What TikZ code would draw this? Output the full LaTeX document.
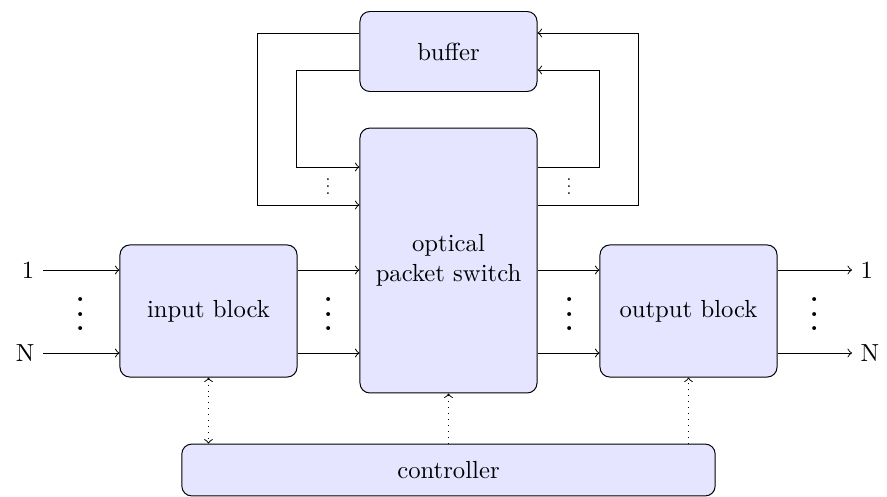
\documentclass[tikz,border=0pt]{standalone}
\usepackage{amsmath,amssymb}
\usepackage{xcolor}
\usepackage{tikz}
\usetikzlibrary{positioning}

\begin{document}
\begin{tikzpicture}[
  x=0.405pt, y=-0.405pt,
  every node/.style={align=center},
  block/.style={draw, rounded corners, fill=blue!10, minimum width=71.7pt},
  bigdots/.style={scale=1.5, inner sep=0pt},
  smalldots/.style={scale=0.7, inner sep=0pt}
]
\useasboundingbox (0,0) rectangle (887,496);

% blocks
\node[block, minimum height=53.5pt] (input) at (208.5,311) {input block};
\node[block, minimum height=107.3pt] (switch) at (448.5,260.5) {optical\\packet switch};
\node[block, minimum height=53.5pt] (output) at (688.5,311) {output block};
\node[block, minimum height=32.4pt] (buffer) at (448.5,51.5) {buffer};
\node[block, minimum width=216pt, minimum height=21pt] (controller) at (448.5,470) {controller};

% rows
\coordinate (fbo) at (0,33);
\coordinate (fbi) at (0,70);
\coordinate (swi) at (0,167);
\coordinate (swo) at (0,205);

% ports
\node[left] (in1) at (43,270) {1};
\node[left] (inN) at (43,353) {N};
\node[right] (out1) at (852,270) {1};
\node[right] (outN) at (852,353) {N};

\draw[->] (in1) -- (input.west |- in1);
\draw[->] (inN) -- (input.west |- inN);
\draw[->] (input.east |- in1) -- (switch.west |- in1);
\draw[->] (input.east |- inN) -- (switch.west |- inN);
\draw[->] (switch.east |- in1) -- (output.west |- in1);
\draw[->] (switch.east |- inN) -- (output.west |- inN);
\draw[->] (output.east |- out1) -- (out1);
\draw[->] (output.east |- outN) -- (outN);

% feedback through buffer
\draw[->] (buffer.west |- fbo) -- ++(-102,0) |- (switch.west |- swo);
\draw[->] (buffer.west |- fbi) -- ++(-63,0) |- (switch.west |- swi);
\draw[->] (switch.east |- swi) -- ++(62,0) |- (buffer.east |- fbi);
\draw[->] (switch.east |- swo) -- ++(101,0) |- (buffer.east |- fbo);

% dots
\node[bigdots] (d1) at (81,303) {$\vdots$};
\node[bigdots] (d2) at (329,303) {$\vdots$};
\node[bigdots] (d3) at (570,303) {$\vdots$};
\node[bigdots] (d4) at (815,303) {$\vdots$};
\node[smalldots] (d5) at (328,181) {$\vdots$};
\node[smalldots] (d6) at (569,181) {$\vdots$};

% control
\draw[dotted, <->] (input.south) -- (input.south |- controller.north);
\draw[dotted, ->] (controller.north) -- (switch.south);
\draw[dotted, ->] (output.south |- controller.north) -- (output.south);

\end{tikzpicture}
\end{document}
